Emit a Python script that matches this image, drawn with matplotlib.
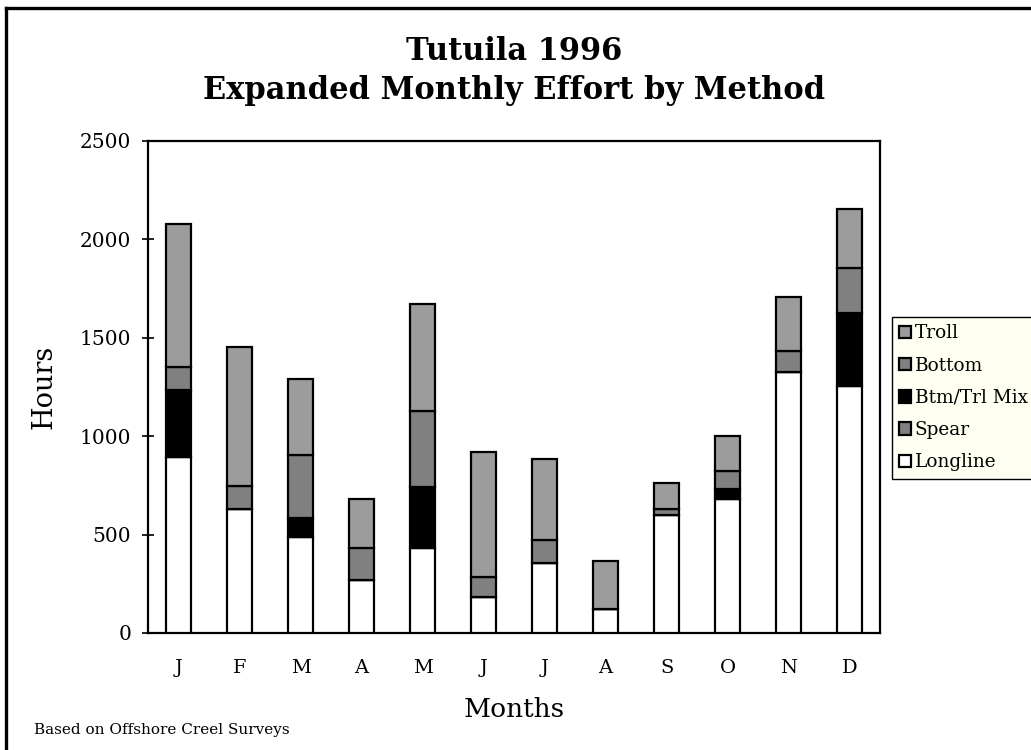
import matplotlib.pyplot as plt
import numpy as np
from matplotlib.lines import Line2D

plt.rcParams['font.family'] = ['DejaVu Serif']

months = ["J", "F", "M", "A", "M", "J", "J", "A", "S", "O", "N", "D"]

# hours per method (stacked bottom to top)
longline = [893, 628, 489, 269, 430, 181, 357, 122, 599, 679, 1324, 1256]
spear = [0, 0, 0, 0, 0, 0, 0, 0, 0, 0, 0, 0]
btm_trl_mix = [341, 0, 94, 0, 310, 0, 0, 0, 0, 52, 0, 368]
bottom = [119, 119, 320, 161, 388, 102, 115, 0, 31, 92, 109, 232]
troll = [725, 704, 389, 249, 543, 635, 412, 245, 130, 178, 272, 301]

series = [
    ("Longline", longline, "white"),
    ("Spear", spear, "#808080"),
    ("Btm/Trl Mix", btm_trl_mix, "black"),
    ("Bottom", bottom, "#808080"),
    ("Troll", troll, "#9c9c9c"),
]

fig = plt.figure(figsize=(10.31, 7.5), dpi=100)
ax = fig.add_axes([148 / 1031, 117 / 750, 732 / 1031, 492 / 750])

x = np.arange(len(months))
base = np.zeros(len(months))
handles = []
for name, vals, color in series:
    vals = np.array(vals, dtype=float)
    b = ax.bar(x, vals, width=0.41, bottom=base, color=color,
               edgecolor="black", linewidth=1.6, label=name, zorder=3)
    handles.append(b)
    base += vals

ax.set_xlim(-0.5, 11.5)
ax.set_ylim(0, 2500)
ax.set_yticks(np.arange(0, 2501, 500))
ax.set_xticks(x)
ax.set_xticklabels(months)
ax.tick_params(axis="x", length=0, labelsize=14, pad=19)
ax.tick_params(axis="y", direction="inout", length=8, width=1.2, labelsize=14.5, pad=8)
for sp in ax.spines.values():
    sp.set_linewidth(1.6)

ax.set_xlabel("Months", fontsize=19, labelpad=14)
ax.set_ylabel("Hours", fontsize=19.5, labelpad=16)

# two-line title
fig.text(514 / 1031, 1 - 52 / 750, "Tutuila 1996",
         ha="center", va="center", fontsize=22, fontweight="bold")
fig.text(514 / 1031, 1 - 90 / 750, "Expanded Monthly Effort by Method",
         ha="center", va="center", fontsize=22, fontweight="bold")

fig.text(34 / 1031, 1 - 730 / 750, "Based on Offshore Creel Surveys",
         ha="left", va="center", fontsize=11)

leg = fig.legend(handles[::-1], [s[0] for s in series][::-1],
                 loc="upper left", bbox_to_anchor=(892 / 1031, 1 - 317 / 750),
                 fontsize=13.3, frameon=True, fancybox=False,
                 handlelength=0.65, handleheight=0.65, handletextpad=0.18,
                 labelspacing=0.77, borderpad=0.4, borderaxespad=0)
leg.get_frame().set_facecolor("#fffff2")
leg.get_frame().set_edgecolor("black")
leg.get_frame().set_linewidth(1.0)
leg.get_frame().set_alpha(1)

# outer border (left and top only)
fig.add_artist(Line2D([6 / 1031, 6 / 1031], [0, 1 - 8 / 750], transform=fig.transFigure,
                      color="black", linewidth=2.4))
fig.add_artist(Line2D([6 / 1031, 1], [1 - 8 / 750, 1 - 8 / 750], transform=fig.transFigure,
                      color="black", linewidth=2.4))

fig.savefig("out.png", dpi=100)
